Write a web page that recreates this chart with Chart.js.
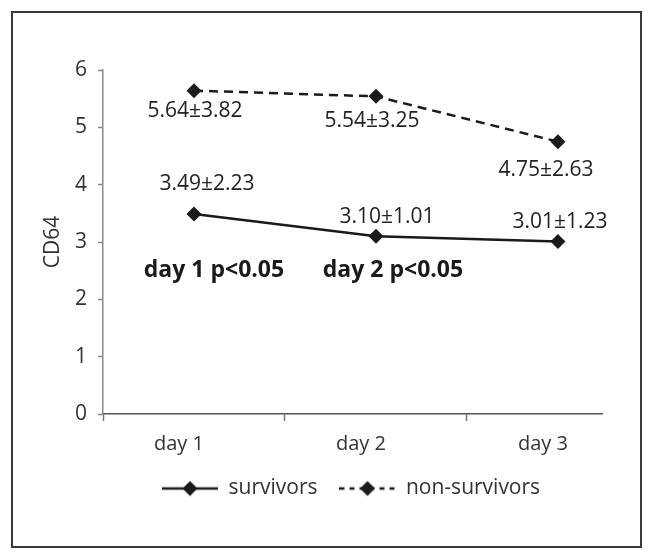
<!DOCTYPE html>
<html>
<head>
<meta charset="utf-8">
<script src="https://cdn.jsdelivr.net/npm/chart.js@4"></script>
<style>
  html, body { margin: 0; padding: 0; background: #fff; }
</style>
</head>
<body>
<canvas id="cd64Chart" width="654" height="560"></canvas>
<script>
// --- Data ---
const categories = ['day 1', 'day 2', 'day 3'];
const survivors = [3.49, 3.10, 3.01];
const survivorsSD = [2.23, 1.01, 1.23];
const nonSurvivors = [5.64, 5.54, 4.75];
const nonSurvivorsSD = [3.82, 3.25, 2.63];
const yTicks = [0, 1, 2, 3, 4, 5, 6];
const xTicks = [0.5, 1, 1.5, 2, 2.5, 3];
const pNotes = ['day 1 p<0.05', 'day 2 p<0.05'];
const pNoteLevel = 2.5;

// --- Styles / offsets of the text notes (pixels, relative to the points) ---
const survNoteOffset = [[13, -30], [11, -19], [2, -19]];
const nonSurvNoteOffset = [[1, 20], [-4, 25], [-12, 28]];
const pNoteOffset = [20, 17];
const INK = '#1a1a1a';
const FONT = '"Open Sans", "DejaVu Sans", sans-serif';

// legend sample: line with a diamond in the middle
function legendSample(dash) {
    const c = document.createElement('canvas');
    c.width = 56; c.height = 20;
    const g = c.getContext('2d');
    g.strokeStyle = INK;
    g.lineWidth = 2.5;
    g.setLineDash(dash);
    g.beginPath(); g.moveTo(0, 10); g.lineTo(56, 10); g.stroke();
    g.setLineDash([]);
    g.fillStyle = INK;
    g.beginPath();
    g.moveTo(28, 2.5); g.lineTo(35.5, 10); g.lineTo(28, 17.5); g.lineTo(20.5, 10);
    g.closePath(); g.fill();
    return c;
}
const legendImages = [legendSample([]), legendSample([5, 5])];

const toPoints = (arr) => arr.map((v, i) => ({ x: i + 1, y: v }));
const note = (m, sd) => m.toFixed(2) + '±' + sd.toFixed(2);

// frame around the whole figure
const framePlugin = {
    id: 'frame',
    beforeDraw(chart) {
        const ctx = chart.ctx;
        ctx.save();
        ctx.fillStyle = '#fff';
        ctx.fillRect(0, 0, chart.width, chart.height);
        ctx.strokeStyle = '#3a3a3a';
        ctx.lineWidth = 2;
        ctx.strokeRect(12, 12, 629, 535);
        ctx.restore();
    },
    afterLayout(chart) {
        // legend sits to the right of the centre, like the original
        chart.legend.left = 140;
        chart.legend.right = 640;
    }
};

// value labels and p notes
const notesPlugin = {
    id: 'notes',
    afterDatasetsDraw(chart) {
        const { ctx, scales: { x, y } } = chart;
        ctx.save();
        ctx.fillStyle = '#222';
        ctx.textAlign = 'center';
        ctx.textBaseline = 'middle';
        ctx.font = '21px ' + FONT;
        survivors.forEach((v, i) => {
            ctx.fillText(note(v, survivorsSD[i]),
                x.getPixelForValue(i + 1) + survNoteOffset[i][0],
                y.getPixelForValue(v) + survNoteOffset[i][1]);
        });
        nonSurvivors.forEach((v, i) => {
            ctx.fillText(note(v, nonSurvivorsSD[i]),
                x.getPixelForValue(i + 1) + nonSurvNoteOffset[i][0],
                y.getPixelForValue(v) + nonSurvNoteOffset[i][1]);
        });
        ctx.font = 'bold 23px ' + FONT;
        ctx.fillStyle = INK;
        pNotes.forEach((t, i) => {
            ctx.fillText(t, x.getPixelForValue(i + 1) + pNoteOffset[i], y.getPixelForValue(pNoteLevel));
        });
        ctx.restore();
    }
};

const ctx = document.getElementById('cd64Chart').getContext('2d');
const chart = new Chart(ctx, {
    type: 'line',
    data: {
        datasets: [
            {
                label: 'survivors',
                data: toPoints(survivors),
                borderColor: INK,
                borderWidth: 2.5,
                pointStyle: 'rectRot',
                pointRadius: 7.5,
                pointBackgroundColor: INK,
                pointBorderWidth: 0
            },
            {
                label: 'non-survivors',
                data: toPoints(nonSurvivors),
                borderColor: INK,
                borderWidth: 2.5,
                borderDash: [9, 6],
                pointStyle: 'rectRot',
                pointRadius: 7.5,
                pointBackgroundColor: INK,
                pointBorderWidth: 0
            }
        ]
    },
    options: {
        responsive: false,
        animation: false,
        layout: { padding: { top: 70, right: 52, left: 0, bottom: 51 } },
        plugins: {
            tooltip: { enabled: false },
            legend: {
                position: 'bottom',
                align: 'start',
                labels: {
                    usePointStyle: true,
                    pointStyleWidth: 56,
                    padding: 22,
                    color: '#333',
                    font: { family: FONT, size: 21 },
                    generateLabels(chart) {
                        const items = Chart.defaults.plugins.legend.labels.generateLabels(chart);
                        items.forEach((it, i) => { it.pointStyle = legendImages[i]; });
                        return items;
                    }
                }
            }
        },
        scales: {
            x: {
                type: 'linear',
                min: 0.5,
                max: 3.242,
                afterBuildTicks(axis) { axis.ticks = xTicks.map(v => ({ value: v })); },
                afterFit(scale) { scale.height = 42; },
                border: { color: '#555', width: 1.5 },
                grid: {
                    drawOnChartArea: false,
                    tickLength: 7,
                    tickWidth: 1.5,
                    tickColor: (c) => (c.tick && Number.isInteger(c.tick.value)) ? 'rgba(0,0,0,0)' : '#777'
                },
                ticks: {
                    autoSkip: false,
                    maxRotation: 0,
                    padding: 11,
                    labelOffset: -15,
                    color: '#333',
                    font: { family: FONT, size: 20 },
                    callback: (v) => Number.isInteger(v) ? categories[v - 1] : ''
                }
            },
            y: {
                min: 0,
                max: 6,
                afterBuildTicks(axis) { axis.ticks = yTicks.map(v => ({ value: v })); },
                afterFit(scale) { scale.width = 103; },
                border: { color: '#888', width: 1.5 },
                grid: { drawOnChartArea: false, tickLength: 5, tickColor: '#888', tickWidth: 1.5 },
                ticks: {
                    padding: 11,
                    color: '#333',
                    font: { family: FONT, size: 21 }
                },
                title: {
                    display: true,
                    text: 'CD64',
                    color: '#333',
                    font: { family: FONT, size: 21 },
                    padding: { top: 40, bottom: 0 }
                }
            }
        }
    },
    plugins: [framePlugin, notesPlugin]
});
</script>
</body>
</html>
